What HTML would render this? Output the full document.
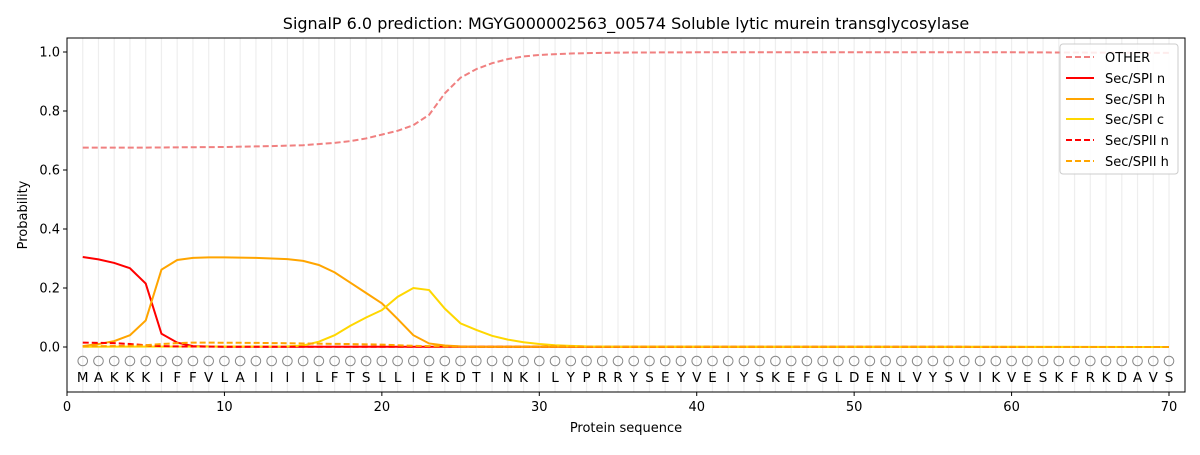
<!DOCTYPE html><html><head><style>body{margin:0;background:#fff}svg{font-family:"DejaVu Sans","Liberation Sans",sans-serif}</style></head><body>
<svg width="1200" height="450" xmlns="http://www.w3.org/2000/svg">
<text x="626" y="29" font-size="16" text-anchor="middle">SignalP 6.0 prediction: MGYG000002563_00574 Soluble lytic murein transglycosylase</text>
<g id="grid" stroke="#eeeeee" stroke-width="1.2"></g>
<g id="circ" fill="none" stroke="#888" stroke-width="1"></g>
<g id="lett" font-size="13.5" text-anchor="middle" fill="#000"></g>
<g transform="translate(67,347) scale(15.743,-295)" fill="none" stroke-width="2">
<polyline vector-effect="non-scaling-stroke" stroke="#f08080" stroke-dasharray="6,3" points="1,0.676 5,0.676 10,0.678 13,0.681 15,0.684 17,0.692 18,0.698 19,0.707 20,0.72 21,0.733 22,0.752 23,0.787 24,0.86 25,0.913 26,0.942 27,0.962 28,0.976 29,0.985 30,0.99 32,0.995 35,0.998 40,0.999 60,0.999 70,0.997"/>
<polyline vector-effect="non-scaling-stroke" stroke="#ff0000" points="1,0.305 2,0.297 3,0.285 4,0.267 5,0.215 6,0.045 7,0.015 8,0.003 10,0.001 70,0"/>
<polyline vector-effect="non-scaling-stroke" stroke="#ffa500" points="1,0.003 2,0.01 3,0.02 4,0.04 5,0.09 6,0.262 7,0.295 8,0.302 9,0.304 10,0.304 12,0.302 14,0.298 15,0.292 16,0.278 17,0.253 18,0.218 19,0.183 20,0.148 21,0.095 22,0.04 23,0.012 24,0.005 25,0.002 26,0.001 70,0"/>
<polyline vector-effect="non-scaling-stroke" stroke="#ffd700" points="1,0.001 14,0.002 15,0.005 16,0.018 17,0.04 18,0.072 19,0.1 20,0.125 21,0.17 22,0.2 23,0.193 24,0.13 25,0.08 26,0.058 27,0.038 28,0.025 29,0.016 30,0.01 31,0.006 32,0.004 33,0.002 35,0.001 70,0"/>
<polyline vector-effect="non-scaling-stroke" stroke="#ff0000" stroke-dasharray="6,3" points="1,0.015 2,0.014 3,0.013 4,0.01 5,0.006 6,0.003 7,0.002 10,0.001 70,0"/>
<polyline vector-effect="non-scaling-stroke" stroke="#ffa500" stroke-dasharray="6,3" points="1,0.002 4,0.004 5,0.006 6,0.01 7,0.013 8,0.015 12,0.014 15,0.012 18,0.01 20,0.008 22,0.004 25,0.001 70,0"/>
</g>
<rect x="67" y="38" width="1118" height="354" fill="none" stroke="#000" stroke-width="1"/>
<g id="ticks" font-size="13" fill="#000"></g>
<text x="626" y="432" font-size="13" text-anchor="middle">Protein sequence</text>
<text transform="translate(27,215) rotate(-90)" font-size="13" text-anchor="middle">Probability</text>
<g font-size="13">
<rect x="1060" y="44" width="118" height="130" fill="#fff" fill-opacity="0.85" stroke="#ccc" rx="3"/>
<line x1="1066" y1="57" x2="1094" y2="57" stroke="#f08080" stroke-width="2" stroke-dasharray="6,3"/><text x="1105" y="62">OTHER</text>
<line x1="1066" y1="78" x2="1094" y2="78" stroke="#f00" stroke-width="2"/><text x="1105" y="83">Sec/SPI n</text>
<line x1="1066" y1="99" x2="1094" y2="99" stroke="#ffa500" stroke-width="2"/><text x="1105" y="104">Sec/SPI h</text>
<line x1="1066" y1="119" x2="1094" y2="119" stroke="#ffd700" stroke-width="2"/><text x="1105" y="124">Sec/SPI c</text>
<line x1="1066" y1="140" x2="1094" y2="140" stroke="#f00" stroke-width="2" stroke-dasharray="6,3"/><text x="1105" y="145">Sec/SPII n</text>
<line x1="1066" y1="161" x2="1094" y2="161" stroke="#ffa500" stroke-width="2" stroke-dasharray="6,3"/><text x="1105" y="166">Sec/SPII h</text>
</g>
</svg>
<script>
var ns="http://www.w3.org/2000/svg",seq="MAKKKIFFVLAIIIILFTSLLIEKDTINKILYPRRYSEYVEIYSKEFGLDENLVYSVIKVESKFRKDAVS";
function X(i){return 67+15.743*i}function Y(p){return 347-295*p}
function el(t,a,p,txt){var e=document.createElementNS(ns,t);for(var k in a)e.setAttribute(k,a[k]);if(txt!=null)e.textContent=txt;document.getElementById(p).appendChild(e)}
for(var i=1;i<=70;i++){el("line",{x1:X(i),x2:X(i),y1:38,y2:392},"grid");el("circle",{cx:X(i),cy:361,r:4.8},"circ");el("text",{x:X(i),y:382},"lett",seq[i-1])}
for(var t=0;t<=70;t+=10){el("line",{x1:X(t),x2:X(t),y1:392,y2:396,stroke:"#000"},"ticks");el("text",{x:X(t),y:411,"text-anchor":"middle"},"ticks",t)}
for(var p=0;p<=5;p++){var v=p*0.2;el("line",{x1:63,x2:67,y1:Y(v),y2:Y(v),stroke:"#000"},"ticks");el("text",{x:60,y:Y(v)+4.5,"text-anchor":"end"},"ticks",v.toFixed(1))}
</script>
</body></html>
